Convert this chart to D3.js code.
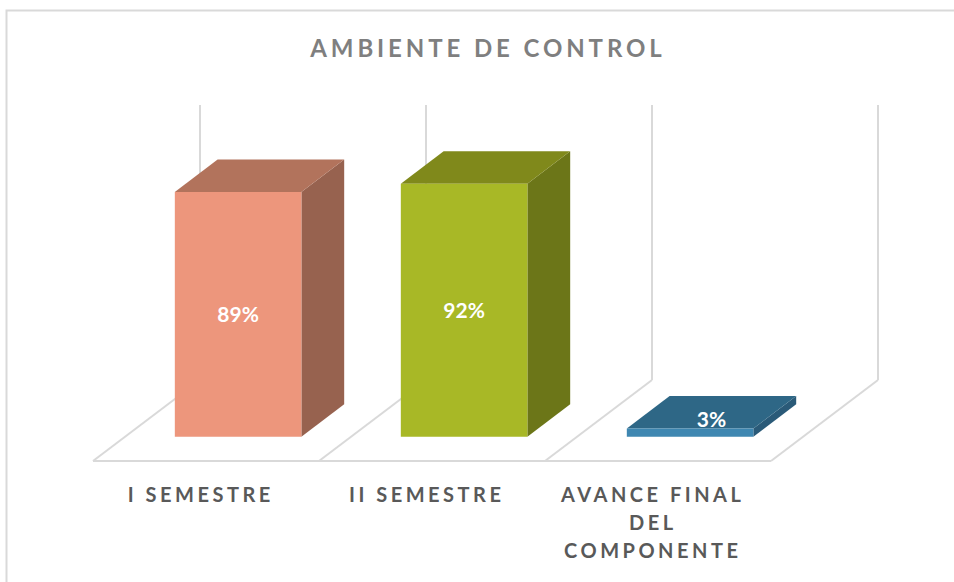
<!DOCTYPE html>
<html>
<head>
<meta charset="utf-8">
<script src="https://cdn.jsdelivr.net/npm/d3@7"></script>
<style>
  html, body { margin: 0; padding: 0; background: #fff; }
  svg { display: block; }
</style>
</head>
<body>
<svg id="chart" width="954" height="582"></svg>
<script>
// ---- data ----
const title = "AMBIENTE DE CONTROL";
const categories = ["I SEMESTRE", "II SEMESTRE", "AVANCE FINAL DEL COMPONENTE"];
const categoryLines = [["I SEMESTRE"], ["II SEMESTRE"], ["AVANCE FINAL", "DEL", "COMPONENTE"]];
const values = [89, 92, 3];
const valueLabels = ["89%", "92%", "3%"];
const axisDomain = [0, 100];
const frontColors = ["#ED967C", "#A8B826", "#3F87B1"];
const topColors = ["#B2735C", "#80891B", "#2E6786"];
const sideColors = ["#97624F", "#6C7618", "#2A5A78"];

// ---- layout ----
const svg = d3.select("#chart");
const floorFrontY = 461;
const depthDX = 107, depthDY = -81;       // full floor depth offset
const barDepth0 = 0.3, barDepth1 = 0.7;    // bar occupies middle of depth
const barWidthFrac = 0.56;

const x = d3.scaleBand().domain(categories).range([93, 771]).paddingInner(0).paddingOuter(0);
const h = d3.scaleLinear().domain(axisDomain).range([0, 275]);

function P(bx, d, hh) {
  return [bx + d * depthDX, floorFrontY + d * depthDY - hh];
}
const poly = pts => "M" + pts.map(p => p.join(",")).join("L") + "Z";
const line = pts => "M" + pts.map(p => p.join(",")).join("L");

// chart border
svg.append("rect").attr("x", 6.5).attr("y", 10.5).attr("width", 960).attr("height", 600)
  .attr("fill", "none").attr("stroke", "#D9D9D9").attr("stroke-width", 2);

const gridColor = "#D9D9D9";
const grid = svg.append("g").attr("fill", "none").attr("stroke", gridColor).attr("stroke-width", 2);

const bounds = categories.map(c => x(c)).concat([x(categories[categories.length - 1]) + x.bandwidth()]);

// back wall vertical lines
bounds.forEach(b => {
  grid.append("path").attr("d", line([P(b, 1, 0), P(b, 1, h(axisDomain[1]))]));
});
// floor diagonals
bounds.forEach(b => {
  grid.append("path").attr("d", line([P(b, 0, 0), P(b, 1, 0)]));
});
// floor front edge
grid.append("path").attr("d", line([P(bounds[0], 0, 0), P(bounds[bounds.length - 1], 0, 0)]));

// bars
const bars = svg.append("g");
categories.forEach((c, i) => {
  const bw = x.bandwidth() * barWidthFrac;
  const x0 = x(c) + (x.bandwidth() - bw) / 2;
  const x1 = x0 + bw;
  const hh = h(values[i]);
  bars.append("path").attr("fill", sideColors[i])
    .attr("d", poly([P(x1, barDepth0, 0), P(x1, barDepth1, 0), P(x1, barDepth1, hh), P(x1, barDepth0, hh)]));
  bars.append("path").attr("fill", topColors[i])
    .attr("d", poly([P(x0, barDepth0, hh), P(x1, barDepth0, hh), P(x1, barDepth1, hh), P(x0, barDepth1, hh)]));
  bars.append("path").attr("fill", frontColors[i])
    .attr("d", poly([P(x0, barDepth0, 0), P(x1, barDepth0, 0), P(x1, barDepth0, hh), P(x0, barDepth0, hh)]));

  const fl = P(x0, barDepth0, 0), ft = P(x1, barDepth0, hh);
  let lx = (fl[0] + ft[0]) / 2, ly = (fl[1] + ft[1]) / 2 + 8;
  if (fl[1] - ft[1] < 24) {
    const tb = P((x0 + x1) / 2, (barDepth0 + barDepth1) / 2, hh);
    lx = tb[0];
    ly = ft[1] - 1;
  }
  svg.append("text").attr("x", lx).attr("y", ly)
    .attr("text-anchor", "middle")
    .attr("font-family", "Lato, 'Open Sans', sans-serif")
    .attr("font-weight", "bold")
    .attr("font-size", 21)
    .attr("fill", "#FFFFFF")
    .text(valueLabels[i]);
});

// category labels
const catSpacing = 3.5;
categories.forEach((c, i) => {
  const cx = x(c) + x.bandwidth() / 2 - 7;
  const t = svg.append("text")
    .attr("text-anchor", "middle")
    .attr("font-family", "Lato, 'Open Sans', sans-serif")
    .attr("font-weight", "bold")
    .attr("font-size", 20)
    .attr("letter-spacing", catSpacing)
    .attr("fill", "#595959");
  categoryLines[i].forEach((ln, j) => {
    t.append("tspan").attr("x", cx + catSpacing / 2).attr("y", 502 + j * 28).text(ln);
  });
});

// title
const titleSpacing = 3.9;
svg.append("text").attr("x", 486 + titleSpacing / 2).attr("y", 57)
  .attr("text-anchor", "middle")
  .attr("font-family", "Lato, 'Open Sans', sans-serif")
  .attr("font-weight", "bold")
  .attr("font-size", 24)
  .attr("letter-spacing", titleSpacing)
  .attr("fill", "#7F7F7F")
  .text(title);
</script>
</body>
</html>
